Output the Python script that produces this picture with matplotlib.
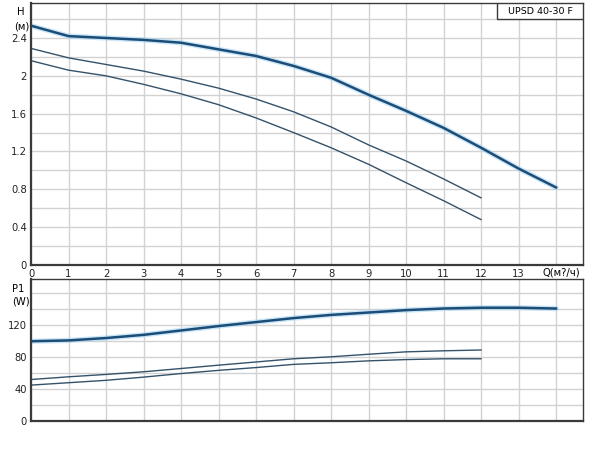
# ============================================================
# UPSD 40-30 F 水泵特性曲線 (H-Q 及 P1-Q)
# ============================================================

import matplotlib.pyplot as plt
from matplotlib.patches import Rectangle

plt.rcParams['font.family'] = ['DejaVu Sans']

# ============================================================
# 1. 數據
# ============================================================
q_max = list(range(0, 15))          # 最高速曲線 Q (0..14)
q_mid = list(range(0, 13))          # 中、低速曲線 Q (0..12)

h_max = [2.53, 2.42, 2.40, 2.38, 2.35, 2.28, 2.21, 2.105, 1.98, 1.80, 1.63, 1.45, 1.24, 1.02, 0.82]
h_mid = [2.29, 2.19, 2.12, 2.05, 1.965, 1.87, 1.755, 1.62, 1.46, 1.27, 1.10, 0.91, 0.71]
h_low = [2.16, 2.06, 2.00, 1.91, 1.81, 1.695, 1.555, 1.40, 1.24, 1.065, 0.87, 0.68, 0.48]

p_max = [100, 101, 104, 108, 113.5, 119, 124, 129, 133, 136, 139, 141, 142, 142, 141]
p_mid = [52, 55.4, 58.4, 61.7, 65.8, 70, 74, 78, 80.5, 83.7, 86.7, 88, 89]
p_low = [45, 48, 51, 55, 59.5, 63.5, 67, 71, 73, 75.4, 77, 78, 78]

x_labels = [str(i) for i in range(14)]
h_ticks = [0, 0.4, 0.8, 1.2, 1.6, 2, 2.4]
h_labels = ['0', '0.4', '0.8', '1.2', '1.6', '2', '2.4']
p_ticks = [0, 40, 80, 120]

thick_col = '#1c4d78'
halo_col = '#a8d6f2'
thin_col = '#34526a'
grid_col = '#d2d2d2'
frame_col = '#3a3a3a'

# ============================================================
# 2. 繪圖
# ============================================================
fig = plt.figure(figsize=(6, 4.55), dpi=100)
ax1 = fig.add_axes([0.0517, 0.4176, 0.92, 0.5758])
ax2 = fig.add_axes([0.0517, 0.0747, 0.92, 0.3121])

for ax in (ax1, ax2):
    ax.set_xlim(0, 14.72)
    ax.set_xticks(range(0, 15))
    ax.grid(True, color=grid_col, linewidth=1.0)
    ax.set_axisbelow(True)
    ax.tick_params(length=0, labelsize=7.2, colors='#222222', pad=3)
    for s in ax.spines.values():
        s.set_color(frame_col)
        s.set_linewidth(1.0)
    ax.spines['left'].set_linewidth(1.6)
    ax.spines['bottom'].set_linewidth(1.6)

# H-Q
ax1.plot(q_max, h_max, color=halo_col, linewidth=3.8, alpha=0.6, solid_capstyle='round')
ax1.plot(q_max, h_max, color=thick_col, linewidth=1.8)
ax1.plot(q_mid, h_mid, color=thin_col, linewidth=1.0)
ax1.plot(q_mid, h_low, color=thin_col, linewidth=1.0)
ax1.set_ylim(0, 2.77)
ax1.set_yticks([i * 0.2 for i in range(14)])
ax1.set_yticklabels([h_labels[h_ticks.index(round(v, 1))] if round(v, 1) in h_ticks else ''
                     for v in [i * 0.2 for i in range(14)]])
ax1.set_xticklabels(x_labels + [''])
ax1.text(-0.012, 0.965, 'H', transform=ax1.transAxes, ha='right', va='center', fontsize=7.2)
ax1.text(-0.003, 0.91, '(м)', transform=ax1.transAxes, ha='right', va='center', fontsize=7.2)
ax1.text(14.15, -0.03, 'Q(м?/ч)', transform=ax1.transData, ha='center', va='top', fontsize=7.2)

# 型號框
ax1.add_patch(Rectangle((0.844, 0.939), 0.156, 0.061, transform=ax1.transAxes,
                        facecolor='white', edgecolor=frame_col, linewidth=1.0, zorder=5))
ax1.text(0.922, 0.969, 'UPSD 40-30 F', transform=ax1.transAxes, ha='center', va='center',
         fontsize=6.8, zorder=6)

# P1-Q
ax2.plot(q_max, p_max, color=halo_col, linewidth=3.8, alpha=0.6, solid_capstyle='round')
ax2.plot(q_max, p_max, color=thick_col, linewidth=1.8)
ax2.plot(q_mid, p_mid, color=thin_col, linewidth=1.0)
ax2.plot(q_mid, p_low, color=thin_col, linewidth=1.0)
ax2.set_ylim(0, 178)
ax2.set_yticks(range(0, 180, 20))
ax2.set_yticklabels([str(v) if v in p_ticks else '' for v in range(0, 180, 20)])
ax2.set_xticklabels([])
ax2.text(-0.012, 0.93, 'P1', transform=ax2.transAxes, ha='right', va='center', fontsize=7.2)
ax2.text(-0.003, 0.84, '(W)', transform=ax2.transAxes, ha='right', va='center', fontsize=7.2)

fig.savefig('out.png', dpi=100)
